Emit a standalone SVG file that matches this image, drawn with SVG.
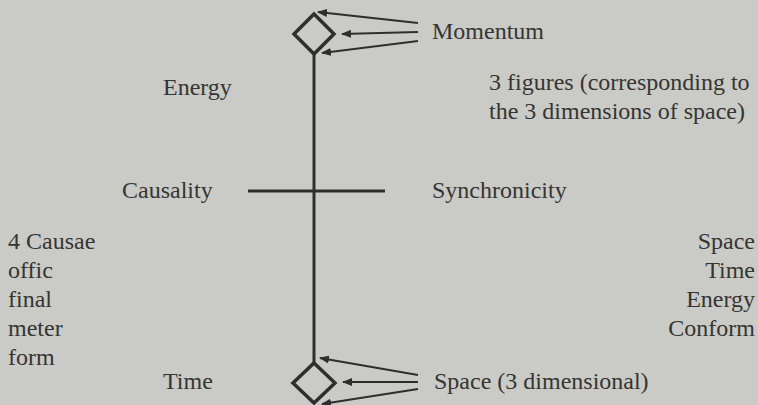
<svg xmlns="http://www.w3.org/2000/svg" width="758" height="405" viewBox="0 0 758 405">
<defs>
<marker id="ah" viewBox="0 0 10 8" refX="9" refY="4" markerWidth="10" markerHeight="8" markerUnits="userSpaceOnUse" orient="auto">
<path d="M0,0 L10,4 L0,8 Z" fill="#2e2e2e"/>
</marker>
<style>
text{font-family:"Liberation Serif","Times New Roman",serif;font-size:24px;fill:#353533}
.r{text-anchor:end}
.ln{stroke:#2e2e2e;fill:none}
.main{stroke-width:3}
.dia{stroke-width:3.5;stroke-linejoin:miter}
.arr{stroke-width:2;marker-end:url(#ah)}
</style>
</defs>
<rect width="758" height="405" fill="#cacac6"/>
<g id="connectors">
<line class="ln main" x1="314" y1="54" x2="314" y2="363"/>
<line class="ln main" x1="248" y1="191" x2="385" y2="191"/>
<line class="ln arr" x1="418" y1="23" x2="318" y2="12"/>
<line class="ln arr" x1="418" y1="32" x2="342" y2="34"/>
<line class="ln arr" x1="418" y1="41" x2="322" y2="53"/>
<line class="ln arr" x1="418" y1="375" x2="320" y2="358"/>
<line class="ln arr" x1="418" y1="382" x2="343" y2="382"/>
<line class="ln arr" x1="418" y1="389" x2="322" y2="404"/>
</g>
<g id="momentum-diamond"><path class="ln dia" d="M314,14 L334,34 L314,54 L294,34 Z"/></g>
<g id="space-diamond"><path class="ln dia" d="M314,363 L335,383 L314,403 L293,383 Z"/></g>
<g id="momentum"><text x="432" y="39">Momentum</text></g>
<g id="energy"><text x="163" y="95">Energy</text></g>
<g id="figures"><text x="489" y="90">3 figures (corresponding to</text><text x="489" y="119">the 3 dimensions of space)</text></g>
<g id="causality"><text x="122" y="198">Causality</text></g>
<g id="synchronicity"><text x="432" y="198">Synchronicity</text></g>
<g id="causae">
<text x="8" y="249">4 Causae</text>
<text x="8" y="278">offic</text>
<text x="8" y="307">final</text>
<text x="8" y="336">meter</text>
<text x="8" y="365">form</text>
</g>
<g id="right-list">
<text class="r" x="755" y="249">Space</text>
<text class="r" x="755" y="278">Time</text>
<text class="r" x="755" y="307">Energy</text>
<text class="r" x="755" y="336">Conform</text>
</g>
<g id="time"><text x="163" y="389">Time</text></g>
<g id="space"><text x="434" y="389">Space (3 dimensional)</text></g>
</svg>
